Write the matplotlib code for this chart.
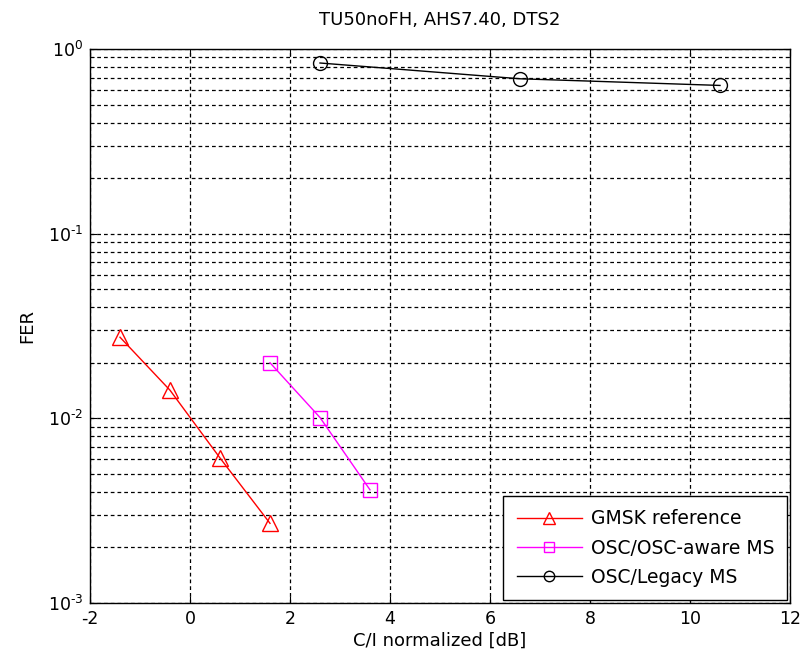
import matplotlib
matplotlib.use("Agg")
import matplotlib.pyplot as plt
from matplotlib.ticker import LogLocator, NullFormatter, FixedLocator, FuncFormatter
import numpy as np

plt.rcParams['font.family'] = ['DejaVu Sans']
plt.rcParams['font.size'] = 12.5
plt.rcParams['axes.unicode_minus'] = False
plt.rcParams['mathtext.default'] = 'regular'

gmsk_x = [-1.4, -0.4, 0.6, 1.6]
gmsk_y = [0.0275, 0.0142, 0.0061, 0.0027]
aware_x = [1.6, 2.6, 3.6]
aware_y = [0.020, 0.0101, 0.0041]
legacy_x = [2.6, 6.6, 10.6]
legacy_y = [0.84, 0.69, 0.635]

xticks = [-2, 0, 2, 4, 6, 8, 10, 12]

fig = plt.figure(figsize=(8, 6.58), dpi=100)
ax = fig.add_axes([0.1125, 0.0836, 0.875, 0.8419])

ax.plot(gmsk_x, gmsk_y, color='#ff0000', marker='^', markersize=11, markerfacecolor='none',
        markeredgecolor='#ff0000', linewidth=1, label='GMSK reference')
ax.plot(aware_x, aware_y, color='#ff00ff', marker='s', markersize=9.5, markerfacecolor='none',
        markeredgecolor='#ff00ff', linewidth=1, label='OSC/OSC-aware MS')
ax.plot(legacy_x, legacy_y, color='black', marker='o', markersize=10, markerfacecolor='none',
        markeredgecolor='black', linewidth=1, label='OSC/Legacy MS')

ax.set_yscale('log')
ax.set_xlim(-2, 12)
ax.set_ylim(1e-3, 1e0)
ax.xaxis.set_major_locator(FixedLocator(xticks))
ax.xaxis.set_major_formatter(FuncFormatter(lambda v, p: '%d' % round(v)))
ax.yaxis.set_major_locator(LogLocator(base=10, numticks=10))
ax.yaxis.set_major_formatter(FuncFormatter(
    lambda v, p: r'$10^{\mathsf{%s}}$' % ('%d' % round(np.log10(v))).replace('-', '\u2010')))
ax.yaxis.set_minor_locator(LogLocator(base=10, subs=range(2, 10), numticks=20))
ax.yaxis.set_minor_formatter(NullFormatter())

ls = (0, (3, 2.4))
ax.grid(True, which='major', axis='both', color='black', linestyle=ls, linewidth=0.9)
ax.grid(True, which='minor', axis='y', color='black', linestyle=ls, linewidth=0.9)
ax.tick_params(which='both', direction='in', top=True, right=True, labelsize=12.5)
ax.tick_params(which='major', length=5, pad=5)
ax.tick_params(which='minor', length=3)
for s in ax.spines.values():
    s.set_linewidth(1.0)

ax.set_title('TU50noFH, AHS7.40, DTS2', fontsize=13, pad=17)
ax.set_xlabel('C/I normalized [dB]', fontsize=13, labelpad=3)
ax.set_ylabel('FER', fontsize=13, labelpad=8)

leg = ax.legend(loc='lower right', fontsize=13.5, fancybox=False, framealpha=1,
                edgecolor='black', borderaxespad=0.15, handlelength=3.5, handletextpad=0.45,
                labelspacing=0.55, markerscale=0.75, borderpad=0.7)
leg.get_frame().set_linewidth(1.0)

fig.savefig('out.png', dpi=100)
